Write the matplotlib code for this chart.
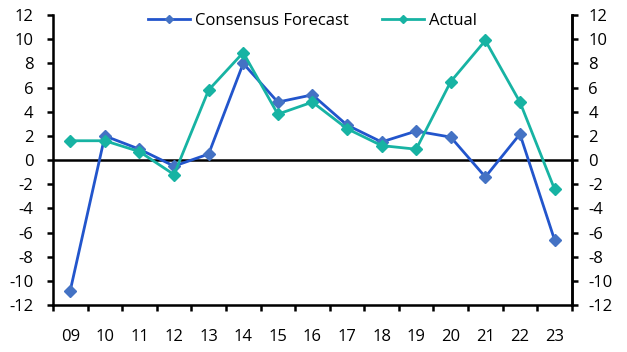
import matplotlib
matplotlib.use('Agg')
import matplotlib.pyplot as plt
import numpy as np

years = ['09', '10', '11', '12', '13', '14', '15', '16', '17', '18', '19', '20', '21', '22', '23']
consensus = [-10.8, 2.0, 0.9, -0.5, 0.5, 8.0, 4.8, 5.4, 2.9, 1.5, 2.4, 1.9, -1.4, 2.15, -6.6]
actual = [1.6, 1.6, 0.7, -1.2, 5.8, 8.9, 3.8, 4.8, 2.6, 1.2, 0.9, 6.5, 9.9, 4.8, -2.4]
yticks = list(range(-12, 13, 2))

plt.rcParams['font.family'] = ['Open Sans', 'DejaVu Sans']
plt.rcParams['axes.unicode_minus'] = False

fig = plt.figure(figsize=(6.27, 3.52), dpi=100)
ax = fig.add_axes([0.0845, 0.1335, 0.8275, 0.8235])

x = np.arange(len(years))
ax.plot(x, consensus, color='#2255CC', lw=2, marker='D', ms=6,
        mfc='#4472C4', mec='#4472C4', label='Consensus Forecast', zorder=3)
ax.plot(x, actual, color='#17B3A3', lw=2, marker='D', ms=6,
        mfc='#17B3A3', mec='#17B3A3', label='Actual', zorder=4)

ax.axhline(0, color='black', lw=1.8, zorder=2)

ax.set_xlim(-0.5, len(years) - 0.5)
ax.set_ylim(-12, 12)
ax.set_yticks(yticks)
ax.set_yticklabels([str(v) for v in yticks])
ax.set_xticks(np.arange(-0.5, len(years), 1))
ax.set_xticklabels([])
ax.set_xticks(x, minor=True)
ax.set_xticklabels(years, minor=True)

ax.spines['top'].set_visible(False)
for s in ['left', 'right', 'bottom']:
    ax.spines[s].set_linewidth(1.8)

ax.tick_params(axis='y', which='major', direction='out', length=4, width=1.8,
               labelsize=12, pad=10)
ax.tick_params(axis='x', which='major', direction='out', length=4, width=1.8)
ax.tick_params(axis='x', which='minor', length=0, labelsize=12, pad=17)

ax2 = ax.twinx()
ax2.set_ylim(-12, 12)
ax2.set_yticks(yticks)
ax2.set_yticklabels([str(v) for v in yticks])
ax2.spines['top'].set_visible(False)
ax2.spines['right'].set_linewidth(1.8)
ax2.tick_params(axis='y', direction='out', length=4, width=1.8, labelsize=12, pad=8)

leg = ax.legend(loc='upper center', bbox_to_anchor=(0.5, 1.03), ncol=2, frameon=False,
                fontsize=12, handlelength=2.5, handletextpad=0.3, columnspacing=2.0,
                markerscale=0.75, borderaxespad=0)

fig.savefig('out.png', dpi=100)
